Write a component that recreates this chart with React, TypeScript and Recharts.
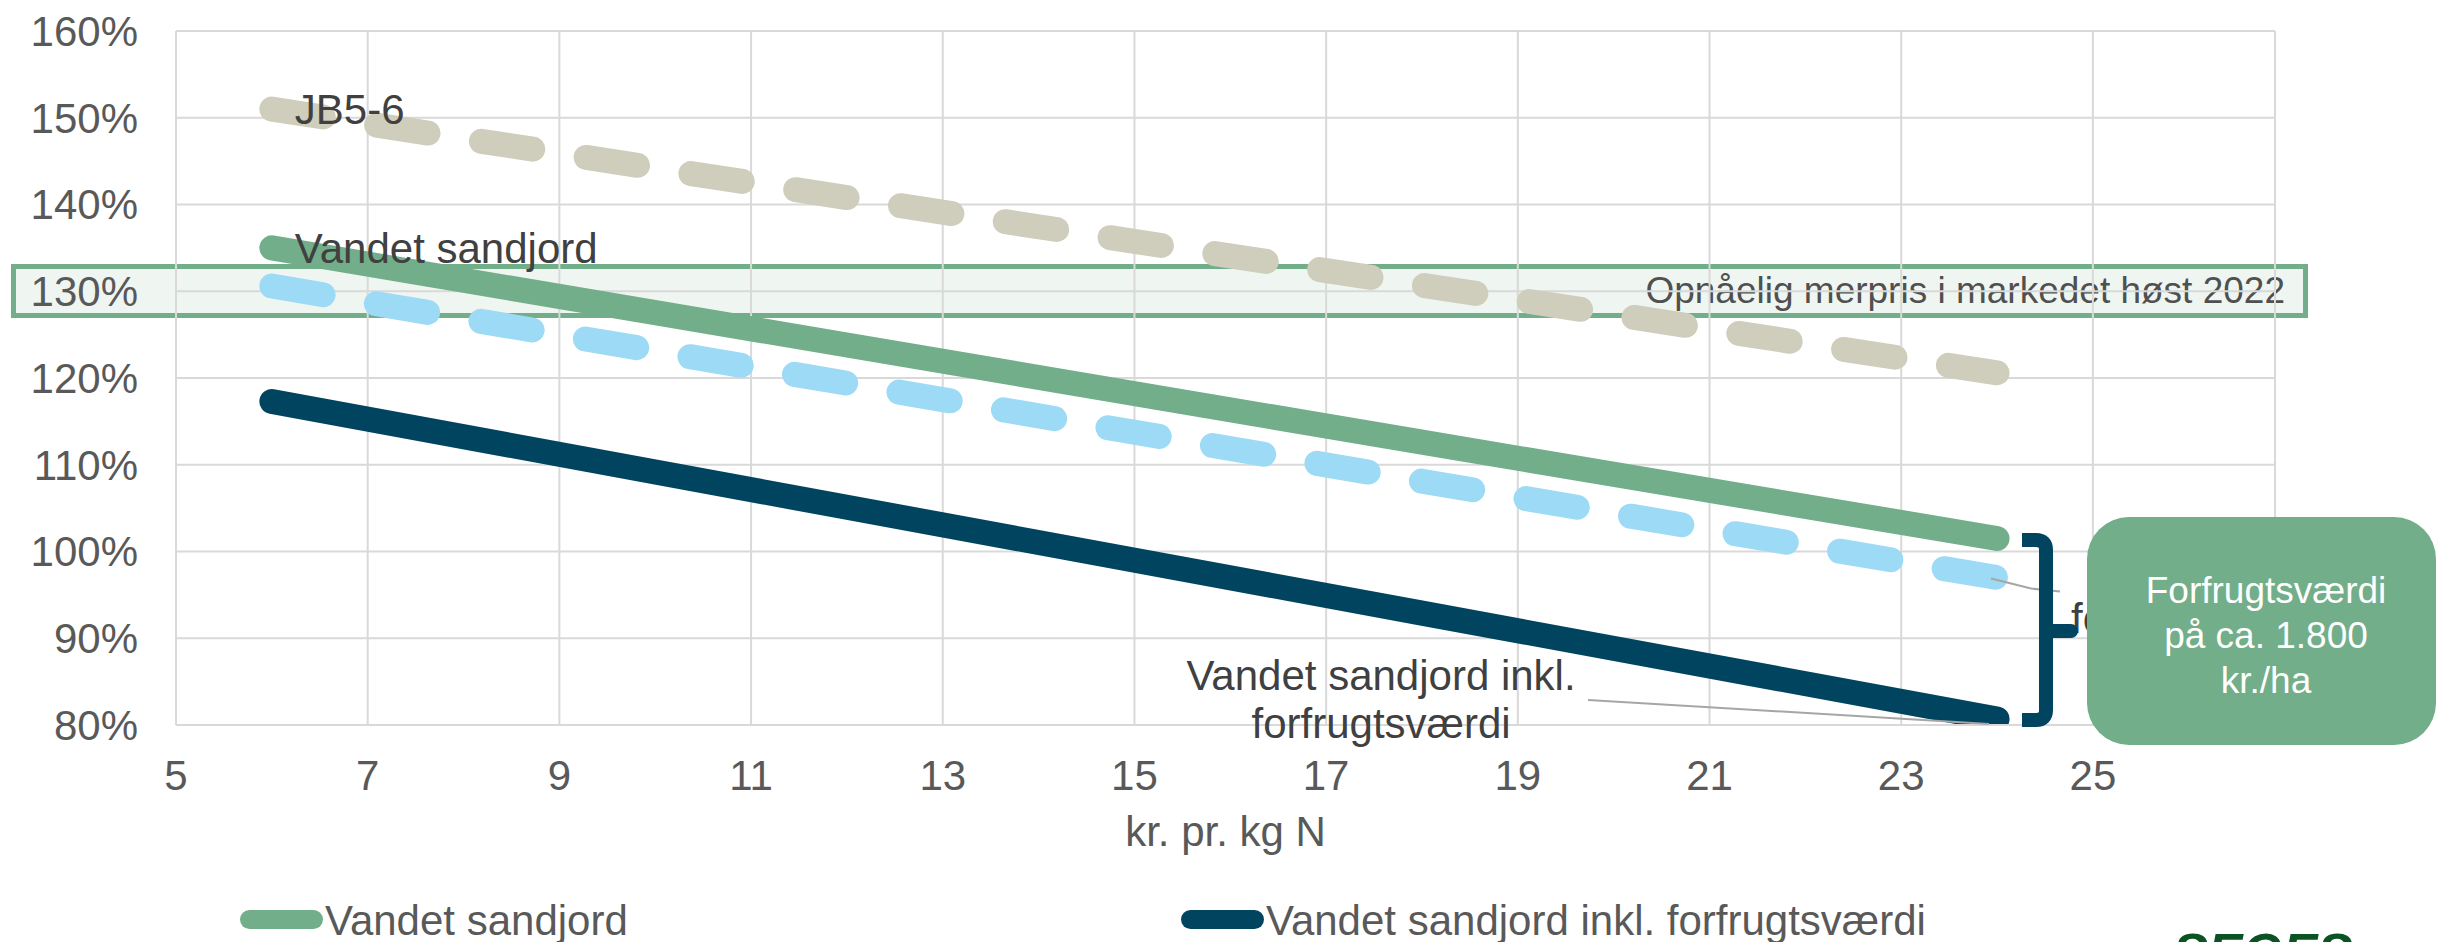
import React from 'react';
import { LineChart, Line, XAxis, YAxis, CartesianGrid } from 'recharts';

// ---------- data ----------
const xValues = [6, 12, 18, 24];
const jb56Values = [151.0, 140.8, 130.7, 120.6];
const sandjordValues = [135.0, 123.8, 112.6, 101.5];
const forfrugtValues = [130.6, 119.4, 108.1, 97.0];
const inklForfrugtValues = [117.3, 105.1, 92.9, 80.7];

const xTicks = [5, 7, 9, 11, 13, 15, 17, 19, 21, 23, 25];
const yTicks = [80, 90, 100, 110, 120, 130, 140, 150, 160];

const nameJb = 'JB5-6';
const nameSand = 'Vandet sandjord';
const nameForfrugt = 'forfrugtsværdi';
const nameInkl = 'Vandet sandjord inkl. forfrugtsværdi';
const inklLabelLines = ['Vandet sandjord inkl.', 'forfrugtsværdi'];
const xAxisTitle = 'kr. pr. kg N';
const boxText = 'Opnåelig merpris i markedet høst 2022';
const calloutLines = ['Forfrugtsværdi', 'på ca. 1.800', 'kr./ha'];
const legendItems = [
  { name: nameSand, color: '#72AE89' },
  { name: nameInkl, color: '#00445F' },
];

const data = xValues.map((x, i) => ({
  x,
  jb: jb56Values[i],
  sand: sandjordValues[i],
  forfrugt: forfrugtValues[i],
  inkl: inklForfrugtValues[i],
}));

const FONT = "'Liberation Sans', Arial, sans-serif";
const GREEN = '#72AE89';
const BLUE = '#9DDAF5';
const BEIGE = '#CFCDBB';
const NAVY = '#00445F';
const LABEL = '#404040';
const TICK = '#595959';
const LAST = xValues.length - 1;

const firstLabel = (text: string) => (props: any) => {
  const { x, y, index } = props;
  if (index !== 0) return <g key={`fl-${index}`} />;
  return (
    <text key={`fl-${index}`} x={x + 23} y={y + 15} fontSize={42} fill={LABEL} fontFamily={FONT}>
      {text}
    </text>
  );
};

const inklLabel = (props: any) => {
  const { x, y, index } = props;
  if (index !== LAST) return <g key={`il-${index}`} />;
  return (
    <g key={`il-${index}`}>
      <line x1={x - 409} y1={y - 19} x2={x - 8} y2={y + 5} stroke="#A6A6A6" strokeWidth={2} />
      <text x={x - 616} y={y - 29} textAnchor="middle" fontSize={42} fill={LABEL} fontFamily={FONT}>
        {inklLabelLines[0]}
      </text>
      <text x={x - 616} y={y + 19} textAnchor="middle" fontSize={42} fill={LABEL} fontFamily={FONT}>
        {inklLabelLines[1]}
      </text>
    </g>
  );
};

const forfrugtLabel = (props: any) => {
  const { x, y, index } = props;
  if (index !== LAST) return <g key={`ff-${index}`} />;
  return (
    <g key={`ff-${index}`}>
      <polyline
        points={`${x - 6},${y + 1} ${x + 34},${y + 11} ${x + 63},${y + 14}`}
        fill="none"
        stroke="#A6A6A6"
        strokeWidth={2}
      />
      <text x={x + 74} y={y + 55} fontSize={42} fill={LABEL} fontFamily={FONT}>
        {nameForfrugt}
      </text>
    </g>
  );
};

export default function App() {
  return (
    <div
      style={{
        position: 'absolute',
        left: 0,
        top: 0,
        width: 2438,
        height: 942,
        background: '#fff',
        overflow: 'hidden',
        fontFamily: FONT,
      }}
    >
      {/* highlighted band (behind chart) */}
      <div
        style={{
          position: 'absolute',
          left: 11,
          top: 264,
          width: 2297,
          height: 54,
          boxSizing: 'border-box',
          border: `5px solid ${GREEN}`,
          background: '#EFF6F1',
          display: 'flex',
          alignItems: 'center',
          justifyContent: 'flex-end',
          paddingRight: 18,
          fontSize: 37,
          color: '#505050',
          fontFamily: FONT,
        }}
      >
        {boxText}
      </div>

      <div style={{ position: 'absolute', left: 0, top: 0 }}>
        <LineChart
          width={2438}
          height={942}
          data={data}
          margin={{ top: 31, right: 163, left: 0, bottom: 77 }}
        >
          <CartesianGrid stroke="#D9D9D9" strokeWidth={2} />
          <XAxis
            type="number"
            dataKey="x"
            domain={[5, 26.9]}
            ticks={xTicks}
            allowDataOverflow
            height={140}
            tickSize={0}
            tickLine={false}
            tickMargin={35}
            axisLine={{ stroke: '#D9D9D9', strokeWidth: 2 }}
            tick={{ fontSize: 42, fill: TICK, fontFamily: FONT }}
            label={{
              value: xAxisTitle,
              position: 'insideBottom',
              offset: 19,
              fontSize: 42,
              fill: TICK,
              fontFamily: FONT,
            }}
          />
          <YAxis
            type="number"
            domain={[80, 160]}
            ticks={yTicks}
            allowDataOverflow
            width={176}
            tickSize={0}
            tickLine={false}
            tickMargin={38}
            axisLine={{ stroke: '#D9D9D9', strokeWidth: 2 }}
            tickFormatter={(v: number) => `${v}%`}
            tick={{ fontSize: 42, fill: TICK, fontFamily: FONT }}
          />
          <Line
            dataKey="jb"
            name={nameJb}
            stroke={BEIGE}
            strokeWidth={25}
            strokeDasharray="52 54"
            strokeLinecap="round"
            dot={false}
            activeDot={false}
            isAnimationActive={false}
            label={firstLabel(nameJb)}
          />
          <Line
            dataKey="forfrugt"
            name={nameForfrugt}
            stroke={BLUE}
            strokeWidth={25}
            strokeDasharray="52 54"
            strokeLinecap="round"
            dot={false}
            activeDot={false}
            isAnimationActive={false}
            label={forfrugtLabel}
          />
          <Line
            dataKey="sand"
            name={nameSand}
            stroke={GREEN}
            strokeWidth={25}
            strokeLinecap="round"
            dot={false}
            activeDot={false}
            isAnimationActive={false}
            label={firstLabel(nameSand)}
          />
          <Line
            dataKey="inkl"
            name={nameInkl}
            stroke={NAVY}
            strokeWidth={25}
            strokeLinecap="round"
            dot={false}
            activeDot={false}
            isAnimationActive={false}
            label={inklLabel}
          />
        </LineChart>
      </div>

      {/* overlay annotations */}
      <svg
        width={2438}
        height={942}
        style={{ position: 'absolute', left: 0, top: 0, pointerEvents: 'none' }}
      >
        <path
          d="M2022,540 L2036,540 Q2046,540 2046,550 L2046,710 Q2046,720 2036,720 L2022,720"
          fill="none"
          stroke={NAVY}
          strokeWidth={14}
        />
        <path d="M2046,631 L2071,631" stroke={NAVY} strokeWidth={14} strokeLinecap="round" />

        <rect x={2087} y={517} width={349} height={228} rx={42} ry={42} fill={GREEN} />
        {calloutLines.map((t, i) => (
          <text
            key={t}
            x={2266}
            y={603 + i * 45}
            textAnchor="middle"
            fontSize={37}
            fill="#fff"
            fontFamily={FONT}
          >
            {t}
          </text>
        ))}

        {legendItems.map((it, i) => {
          const left = i === 0 ? 240 : 1181;
          return (
            <g key={it.name}>
              <rect x={left} y={910} width={83} height={19} rx={9.5} fill={it.color} />
              <text x={left + 85} y={935} fontSize={42} fill={TICK} fontFamily={FONT}>
                {it.name}
              </text>
            </g>
          );
        })}

        <text
          x={2173}
          y={970}
          fontSize={52}
          fontWeight="bold"
          fontStyle="italic"
          fill="#0B5323"
          fontFamily={FONT}
        >
          SEGES
        </text>
      </svg>
    </div>
  );
}
